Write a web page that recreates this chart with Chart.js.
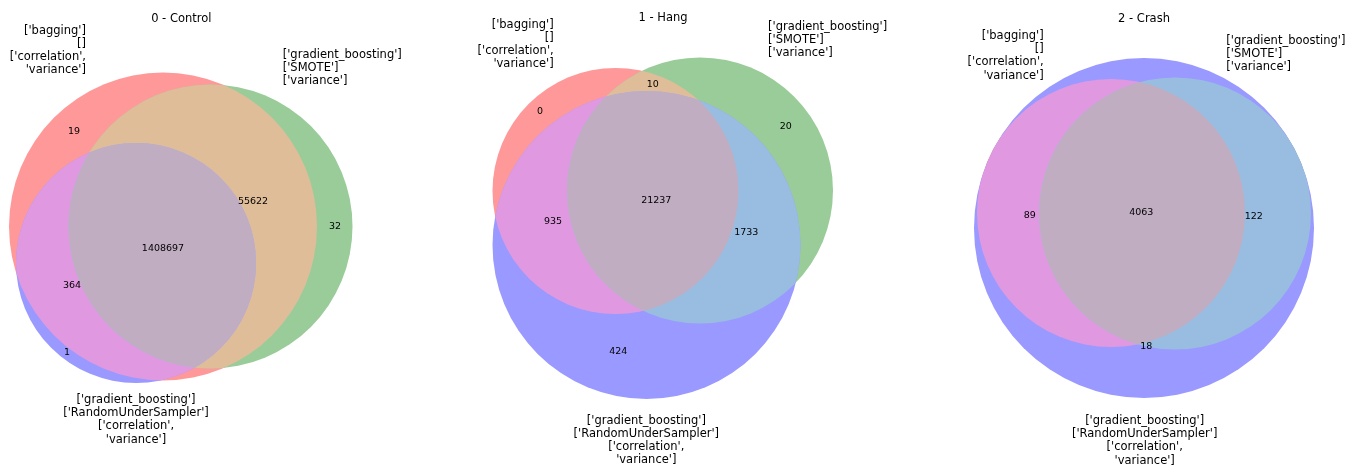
<!DOCTYPE html>
<html>
<head>
<meta charset="utf-8">
<script src="https://cdn.jsdelivr.net/npm/chart.js@4.4.1/dist/chart.umd.min.js"></script>
<style>
    body { margin: 0; background: #fff; }
    #wrap { display: flex; width: 1347px; height: 465px; }
    #wrap canvas { display: block; }
</style>
</head>
<body>
<div id="wrap">
    <canvas id="venn0" width="449" height="465"></canvas>
    <canvas id="venn1" width="449" height="465"></canvas>
    <canvas id="venn2" width="449" height="465"></canvas>
</div>
<script>
// values
const panelTitles = ['0 - Control', '1 - Hang', '2 - Crash'];
// region order: A only, B only, AB, C only, AC, BC, ABC
const regionKeys = ['100', '010', '110', '001', '101', '011', '111'];
const countsControl = [19, 32, 55622, 1, 364, 0, 1408697];
const countsHang = [0, 20, 10, 424, 935, 1733, 21237];
const countsCrash = [0, 0, 0, 18, 89, 122, 4063];
const setLabelA = ["['bagging']", "[]", "['correlation',", "'variance']"];
const setLabelB = ["['gradient_boosting']", "['SMOTE']", "['variance']"];
const setLabelC = ["['gradient_boosting']", "['RandomUnderSampler']", "['correlation',", "'variance']"];

// venn layout per panel (circle x, y, radius; label anchors)
const layouts = [
    {
        circles: [[-0.615, 0.06, 1.54], [-0.14, 0.06, 1.42], [-0.885, -0.305, 1.20]],
        countPos: [[-1.505, 1.005], [1.105, 0.055], [0.285, 0.305], [-1.575, -1.205], [-1.525, -0.535], null, [-0.615, -0.165]],
        labelA: [-1.385, 2.018], labelB: [0.582, 1.775], labelC: [-0.885, -1.675],
        title: [-0.432, 2.135]
    },
    {
        circles: [[-0.58, 0.415, 1.23], [0.265, 0.42, 1.33], [-0.27, -0.125, 1.54]],
        countPos: [[-1.335, 1.208], [1.122, 1.058], [-0.208, 1.482], [-0.552, -1.192], [-1.205, 0.105], [0.728, 0.002], [-0.172, 0.318]],
        labelA: [-1.198, 2.078], labelB: [0.945, 2.058], labelC: [-0.272, -1.882],
        title: [-0.105, 2.142]
    },
    {
        circles: [[-0.115, 0.195, 1.34], [0.525, 0.19, 1.36], [0.215, 0.045, 1.70]],
        countPos: [null, null, null, [0.238, -1.142], [-0.928, 0.165], [1.312, 0.158], [0.188, 0.202]],
        labelA: [-0.788, 1.965], labelB: [1.038, 1.915], labelC: [0.222, -1.885],
        title: [0.215, 2.135]
    }
];

const regionColors = {
    '100': 'rgb(255,153,153)',
    '010': 'rgb(153,204,153)',
    '001': 'rgb(153,153,255)',
    '110': 'rgb(224,189,153)',
    '101': 'rgb(224,153,224)',
    '011': 'rgb(153,189,224)',
    '111': 'rgb(193,173,193)'
};
const paintOrder = ['100', '010', '001', '110', '101', '011', '111'];
const fontFamily = '"DejaVu Sans", sans-serif';
const lineStep = 0.132;

function circlePath(ctx, c) {
    ctx.beginPath();
    ctx.arc(c.x, c.y, c.r, 0, Math.PI * 2);
}

function drawLines(ctx, chart, lines, anchor, align) {
    const xs = chart.scales.x, ys = chart.scales.y;
    ctx.textAlign = align;
    lines.forEach(function (line, i) {
        ctx.fillText(line, xs.getPixelForValue(anchor[0]), ys.getPixelForValue(anchor[1] - i * lineStep));
    });
}

const vennPlugin = {
    id: 'venn',
    beforeDatasetsDraw(chart, args, opts) {
        const ctx = chart.ctx, xs = chart.scales.x, ys = chart.scales.y;
        const circles = opts.layout.circles.map(c => ({
            x: xs.getPixelForValue(c[0]),
            y: ys.getPixelForValue(c[1]),
            r: xs.getPixelForValue(c[2]) - xs.getPixelForValue(0)
        }));
        paintOrder.forEach(function (key) {
            let idx = [];
            for (let i = 0; i < 3; i++) if (key[i] == '1') idx.push(i);
            ctx.save();
            for (let k = 0; k < idx.length - 1; k++) {
                circlePath(ctx, circles[idx[k]]);
                ctx.clip();
            }
            circlePath(ctx, circles[idx[idx.length - 1]]);
            ctx.fillStyle = regionColors[key];
            ctx.fill();
            ctx.restore();
        });
    },
    afterDatasetsDraw(chart, args, opts) {
        const ctx = chart.ctx;
        const meta = chart.getDatasetMeta(0);
        const points = chart.data.datasets[0].data;
        ctx.save();
        ctx.fillStyle = '#000';
        ctx.textBaseline = 'middle';
        ctx.textAlign = 'center';
        ctx.font = '9.5px ' + fontFamily;
        meta.data.forEach(function (el, i) {
            ctx.fillText(String(points[i].v), el.x, el.y);
        });
        ctx.font = '11.5px ' + fontFamily;
        drawLines(ctx, chart, setLabelA, opts.layout.labelA, 'right');
        drawLines(ctx, chart, setLabelB, opts.layout.labelB, 'left');
        drawLines(ctx, chart, setLabelC, opts.layout.labelC, 'center');
        drawLines(ctx, chart, [opts.title], opts.layout.title, 'center');
        ctx.restore();
    }
};

function montarVenn(id, title, counts, layout) {
    let pontos = [];
    counts.forEach(function (v, i) {
        if (layout.countPos[i]) pontos.push({ x: layout.countPos[i][0], y: layout.countPos[i][1], v: v, region: regionKeys[i] });
    });
    new Chart(document.getElementById(id), {
        type: 'scatter',
        data: { datasets: [{ label: 'counts', data: pontos, pointRadius: 0, pointHoverRadius: 0 }] },
        options: {
            responsive: false,
            animation: false,
            events: [],
            layout: { padding: 0 },
            scales: {
                x: { type: 'linear', min: -2.245, max: 2.245, display: false },
                y: { type: 'linear', min: -2.325, max: 2.325, display: false }
            },
            plugins: {
                legend: { display: false },
                tooltip: { enabled: false },
                venn: { layout: layout, title: title }
            }
        },
        plugins: [vennPlugin]
    });
}

montarVenn('venn0', panelTitles[0], countsControl, layouts[0]);
montarVenn('venn1', panelTitles[1], countsHang, layouts[1]);
montarVenn('venn2', panelTitles[2], countsCrash, layouts[2]);
</script>
</body>
</html>
